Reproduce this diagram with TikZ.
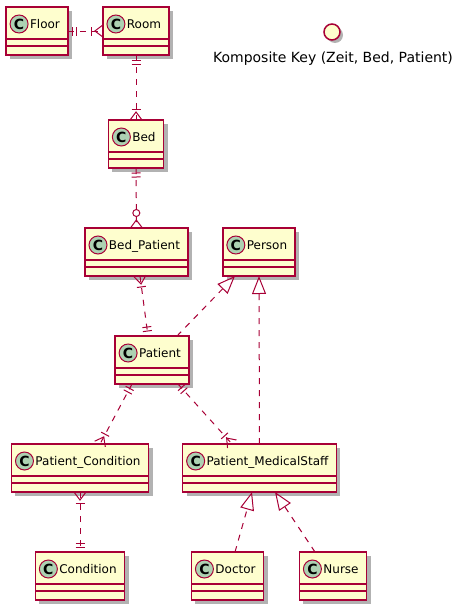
\documentclass[tikz,border=0pt]{standalone}
\usepackage{fontspec}
\setmainfont{DejaVu Sans}
\usetikzlibrary{positioning,arrows.meta,shadows,decorations.markings}

\definecolor{umlred}{HTML}{A80036}
\definecolor{umlfill}{HTML}{FEFECE}
\definecolor{umlspot}{HTML}{ADD1B2}

\tikzset{
  footline/.style={solid,draw=umlred,line width=1pt},
  one start/.style={postaction={decorate,decoration={markings,
      mark=at position 5pt with {\draw[footline] (0,-4.5pt) -- (0,4.5pt);},
      mark=at position 9pt with {\draw[footline] (0,-4.5pt) -- (0,4.5pt);}}}},
  one end/.style={postaction={decorate,decoration={markings,
      mark=at position -9pt with {\draw[footline] (0,-4.5pt) -- (0,4.5pt);},
      mark=at position -5pt with {\draw[footline] (0,-4.5pt) -- (0,4.5pt);}}}},
  many start/.style={postaction={decorate,decoration={markings,
      mark=at position 0pt with {\draw[footline] (0,6pt) -- (8pt,0) -- (0,-6pt);},
      mark=at position 11pt with {\draw[footline] (0,-4.5pt) -- (0,4.5pt);}}}},
  many end/.style={postaction={decorate,decoration={markings,
      mark=at position -11pt with {\draw[footline] (0,-4.5pt) -- (0,4.5pt);},
      mark=at position 1 with {\draw[footline] (0,6pt) -- (-8pt,0) -- (0,-6pt);}}}},
  none many end/.style={postaction={decorate,decoration={markings,
      mark=at position -15pt with {\draw[footline,fill=white] (0,0) circle (3.5pt);},
      mark=at position 1 with {\draw[footline] (0,6pt) -- (-8pt,0) -- (0,-6pt);}}}},
}

\begin{document}
\begin{tikzpicture}[x=1pt,y=-1pt,>={Triangle[open,length=18pt,width=14pt]}]
      \tikzstyle{class}=[draw=umlred,fill=umlfill,line width=1.5pt,anchor=north,
                         inner sep=0pt,outer sep=0pt,text height=21pt,text depth=27pt,
                         font=\fontsize{12}{14}\selectfont,
                         execute at begin node=\hspace*{24pt},
                         execute at end node=\hspace*{8pt},
                         drop shadow={shadow xshift=4pt,shadow yshift=-4pt,opacity=.3,fill=black}]
      \tikzstyle{spot}=[circle,minimum size=18pt,inner sep=0pt,fill=umlspot,draw=umlred,
                        line width=1pt,font=\fontsize{14}{14}\selectfont\bfseries]
      \tikzstyle{link}=[draw=umlred,line width=1pt,dash pattern=on 6pt off 6pt]
      \useasboundingbox (0,0) rectangle (458,613);

      \node[class] (floor)   at (37,7)     {Floor};
      \node[class] (room)    at (136,7)    {Room};
      \node[class] (bed)     at (136,120)  {Bed};
      \node[class] (bedpat)  at (136.5,228){Bed\_Patient};
      \node[class] (person)  at (259,228)  {Person};
      \node[class] (patient) at (152,336)  {Patient};
      \node[class] (pcond)   at (80,444)   {Patient\_Condition};
      \node[class] (pstaff)  at (259.5,444){Patient\_MedicalStaff};
      \node[class] (cond)    at (80,552)   {Condition};
      \node[class] (doctor)  at (227.5,552){Doctor};
      \node[class] (nurse)   at (333,552)  {Nurse};

      \foreach \n in {floor,room,bed,bedpat,person,patient,pcond,pstaff,cond,doctor,nurse}{
        \draw[umlred,line width=1.5pt]
          ([yshift=-32pt]\n.north west) -- ([yshift=-32pt]\n.north east)
          ([yshift=-39pt]\n.north west) -- ([yshift=-39pt]\n.north east);
        \node[spot] (\n spot) at ([xshift=13pt,yshift=-17pt]\n.north west) {C};
      }

      \node[circle,minimum size=16pt,inner sep=0pt,fill=umlfill,draw=umlred,line width=1.5pt,
            drop shadow={shadow xshift=3pt,shadow yshift=-3pt,opacity=.3,fill=black}]
            (key) at (332,32) {};
      \node[anchor=base,inner sep=0pt,font=\fontsize{14}{16}\selectfont]
            (keylabel) at (333,62) {Komposite Key (Zeit, Bed, Patient)};

      % crow's foot links
      \path[every edge/.style={link}]
        (floor)  edge[one start,many end]      (room)
        (room)   edge[one start,many end]      (bed)
        (bed)    edge[one start,none many end] (bedpat)
        ([xshift=3.5pt]bedpat.south)  edge[many start,one end] ([xshift=-4pt]patient.north)
        ([xshift=-20pt]patient.south) edge[one start,many end] ([xshift=20pt]pcond.north)
        ([xshift=26pt]patient.south)  edge[one start,many end] ([xshift=-27.5pt]pstaff.north)
        (pcond)  edge[many start,one end]      (cond)
        ;

      % inheritance
      \path[->,every edge/.style={link}]
        ([xshift=25pt]patient.north)  edge ([xshift=-24pt]person.south)
        (pstaff.north)                edge (person.south)
        ([xshift=7.5pt]doctor.north)  edge ([xshift=-7.5pt]pstaff.south)
        ([xshift=-18pt]nurse.north)   edge ([xshift=15.5pt]pstaff.south)
        ;
\end{tikzpicture}
\end{document}
